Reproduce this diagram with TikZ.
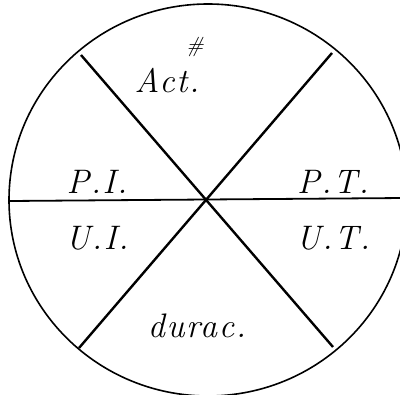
\documentclass[tikz,border=0pt]{standalone}
\usepackage{fontspec}
\setmainfont{Latin Modern Roman}
\begin{document}
\begin{tikzpicture}[x=1pt,y=-1pt,
  lbl/.style={font=\fontsize{34}{34}\selectfont\itshape\addfontfeature{LetterSpace=5}, inner sep=0pt},
  rim/.style={line width=1.6pt},
  spoke/.style={line width=2.4pt}]
\useasboundingbox (0,0) rectangle (400,395);
\coordinate (c) at (208,200);
\draw[rim] (c) ellipse [x radius=199, y radius=196];
\coordinate (ul) at (81,55);
\coordinate (ur) at (332,53);
\coordinate (ll) at (79,348);
\coordinate (lr) at (333,347);
\coordinate (l) at (10,201);
\coordinate (r) at (405,198);
\draw[spoke] (ul) -- (lr);
\draw[spoke] (ur) -- (ll);
\draw[line width=1.8pt] (l) -- (r);
\node[inner sep=0pt, font=\fontsize{22}{22}\selectfont\itshape] (h) at (195,47) {\#};
\node[lbl] (act) at (167,81) {Act.};
\node[lbl] (pi) at (97,182) {P.I.};
\node[lbl] (pt) at (333,182) {P.T.};
\node[lbl] (ui) at (97,238) {U.I.};
\node[lbl] (ut) at (333,238) {U.T.};
\node[lbl] (dur) at (197,326) {durac.};
\end{tikzpicture}
\end{document}
